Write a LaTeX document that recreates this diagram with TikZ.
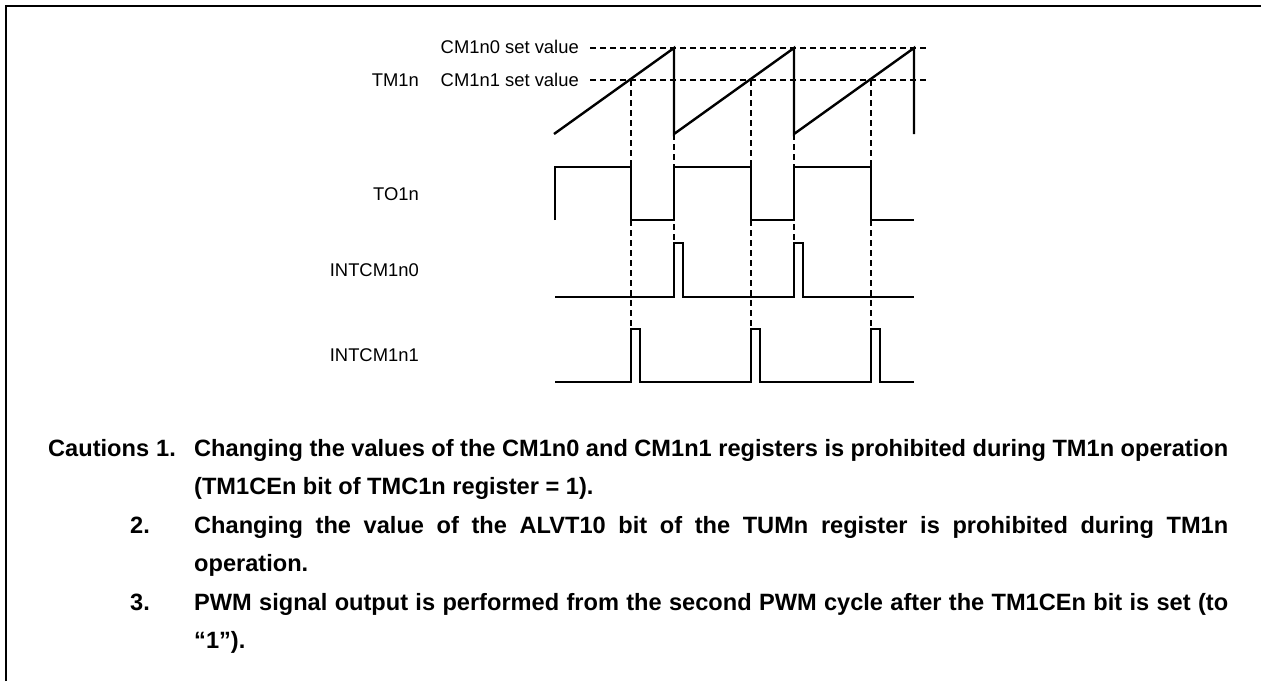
\documentclass[tikz,border=0pt]{standalone}
\usepackage{fontspec}
\setmainfont{Liberation Sans}
\begin{document}
\begin{tikzpicture}[x=1pt,y=-1pt,
  wave/.style={line width=2.4pt, line join=miter},
  guide/.style={line width=1.2pt, dash pattern=on 6pt off 4pt},
  frameline/.style={line width=2.3pt, line join=miter},
  lbl/.style={inner sep=0pt, anchor=base east, font=\fontsize{18.4}{22}\selectfont},
  ctext/.style={inner sep=0pt, anchor=base west, font=\fontsize{23.6}{28}\selectfont\bfseries}]
\useasboundingbox (0,0) rectangle (1261,681);
% frame
\draw[frameline] (6,681) -- (6,6) -- (1261,6);
% guides
\draw[guide] (590,48) -- (928,48);
\draw[guide] (590,80) -- (928,80);
\foreach \x in {631,751,871} \draw[guide] (\x,80) -- (\x,329);
\foreach \x in {674,794} \draw[guide] (\x,134) -- (\x,243);
% TM1n sawtooth
\draw[wave] (554,134) -- (674,48) -- (674,134) -- (794,48) -- (794,134) -- (914,48) -- (914,134);
% TO1n
\draw[wave] (555,220) -- (555,167) -- (631,167) -- (631,220) -- (674,220) -- (674,167) -- (751,167) -- (751,220) -- (794,220) -- (794,167) -- (871,167) -- (871,220) -- (914,220);
% INTCM1n0
\draw[wave] (555,297) -- (674,297) -- (674,243) -- (683,243) -- (683,297) -- (794,297) -- (794,243) -- (803,243) -- (803,297) -- (914,297);
% INTCM1n1
\draw[wave] (555,382) -- (631,382) -- (631,329) -- (640,329) -- (640,382) -- (751,382) -- (751,329) -- (760,329) -- (760,382) -- (871,382) -- (871,329) -- (880,329) -- (880,382) -- (914,382);
% labels
\node[lbl] (cm0) at (579,53.5) {CM1n0 set value};
\node[lbl] (cm1) at (579,86.5) {CM1n1 set value};
\node[lbl] (tm) at (419,86.5) {TM1n};
\node[lbl] (to) at (419,200.5) {TO1n};
\node[lbl] (i0) at (419,276.5) {INTCM1n0};
\node[lbl] (i1) at (419,361.5) {INTCM1n1};
% cautions
\node[ctext] (c0) at (48,456) {Cautions};
\node[ctext] (n1) at (156,456) {1.};
\node[ctext] (l1) at (194,456) {\makebox[1034pt][s]{Changing the values of the CM1n0 and CM1n1 registers is prohibited during TM1n operation}};
\node[ctext] (l2) at (194,494) {(TM1CEn bit of TMC1n register = 1).};
\node[ctext] (n2) at (130,533) {2.};
\node[ctext] (l3) at (194,533) {\makebox[1034pt][s]{Changing the value of the ALVT10 bit of the TUMn register is prohibited during TM1n}};
\node[ctext] (l4) at (194,571) {operation.};
\node[ctext] (n3) at (130,610) {3.};
\node[ctext] (l5) at (194,610) {\makebox[1034pt][s]{PWM signal output is performed from the second PWM cycle after the TM1CEn bit is set (to}};
\node[ctext] (l6) at (194,648) {“1”).};
\end{tikzpicture}
\end{document}
